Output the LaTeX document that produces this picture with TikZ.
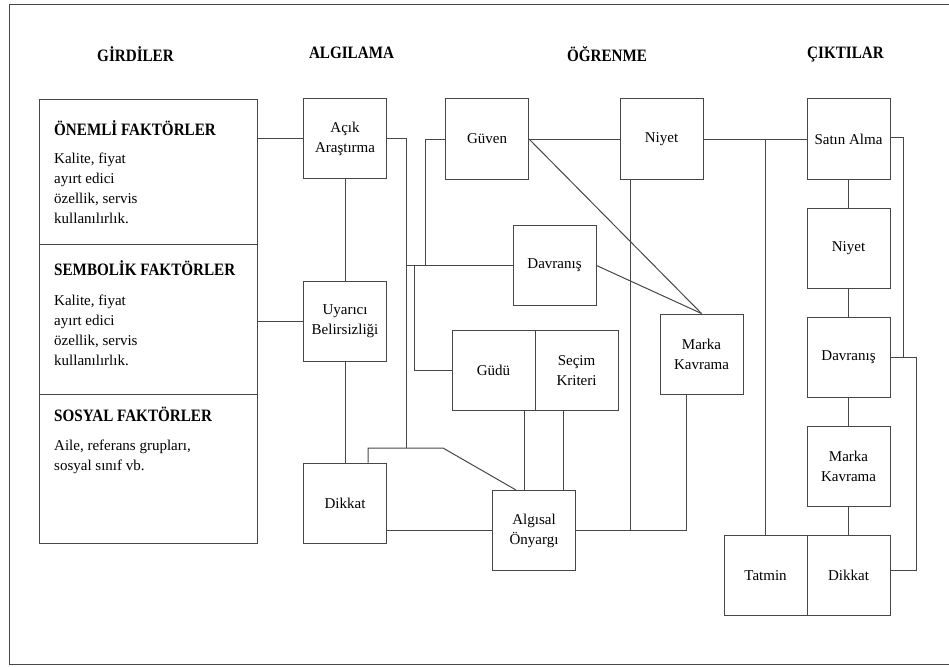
\documentclass[tikz,border=0pt]{standalone}
\usepackage{fontspec}
\setmainfont{Liberation Serif}[BoldFeatures={FakeStretch=0.87}]
\begin{document}
\begin{tikzpicture}[x=1pt, y=-1pt, font=\fontsize{15}{20}\selectfont,
    hat/.style={draw=black!72, line width=1pt},
    kutu/.style={hat, minimum width=83pt, minimum height=80pt, inner sep=0pt, align=center},
    bolum/.style={hat, minimum width=218pt, anchor=north west, inner sep=0pt},
    baslik/.style={font=\fontsize{17.4}{20}\selectfont\bfseries, anchor=base, inner sep=0pt},
    metin/.style={anchor=north west, align=left, inner sep=0pt}]
    \useasboundingbox (0,0) rectangle (949,666);
    % Frame
    \draw[hat] (949,5) -- (9,5) -- (9,664) -- (949,664);
    % Column headings
    \node[baslik] (girdiler) at (135.5,62) {GİRDİLER};
    \node[baslik] (algilama) at (351.5,59) {ALGILAMA};
    \node[baslik] (ogrenme) at (607,62) {ÖĞRENME};
    \node[baslik] (ciktilar) at (845.5,59) {ÇIKTILAR};
    % Inputs
    \node[bolum, minimum height=145pt] (onemli) at (39,99) {};
    \node[bolum, minimum height=150pt] (sembolik) at (39,244) {};
    \node[bolum, minimum height=149pt] (sosyal) at (39,394) {};
    \node[baslik, anchor=base west] (onemlib) at (54,135) {ÖNEMLİ FAKTÖRLER};
    \node[metin] (onemlim) at (54,153) {Kalite, fiyat\\ayırt edici\\özellik, servis\\kullanılırlık.};
    \node[baslik, anchor=base west] (sembolikb) at (54,275.5) {SEMBOLİK FAKTÖRLER};
    \node[metin] (sembolikm) at (54,295) {Kalite, fiyat\\ayırt edici\\özellik, servis\\kullanılırlık.};
    \node[baslik, anchor=base west] (sosyalb) at (54,421.5) {SOSYAL FAKTÖRLER};
    \node[metin] (sosyalm) at (54,440) {Aile, referans grupları,\\sosyal sınıf vb.};
    % Perception
    \node[kutu] (acik) at (345,138.5) {Açık\\Araştırma};
    \node[kutu] (uyarici) at (345,321) {Uyarıcı\\Belirsizliği};
    \node[kutu] (dikkat1) at (345,503) {Dikkat};
    % Learning
    \node[kutu] (guven) at (487,139) {Güven};
    \node[kutu] (niyet1) at (661.5,139) {Niyet};
    \node[kutu] (davranis1) at (554.5,265.5) {Davranış};
    \node[kutu] (gudu) at (493.5,370.5) {Güdü};
    \node[kutu] (secim) at (576.5,370.5) {Seçim\\Kriteri};
    \node[kutu] (marka1) at (701.5,354) {Marka\\Kavrama};
    \node[kutu] (algisal) at (534,530.5) {Algısal\\Önyargı};
    % Outputs
    \node[kutu] (satin) at (848.5,139) {Satın Alma};
    \node[kutu] (niyet2) at (848.5,248) {Niyet};
    \node[kutu] (davranis2) at (848.5,357.5) {Davranış};
    \node[kutu] (marka2) at (848.5,466.5) {Marka\\Kavrama};
    \node[kutu] (tatmin) at (765.5,575.5) {Tatmin};
    \node[kutu] (dikkat2) at (848.5,575.5) {Dikkat};
    % Junction points
    \coordinate (k1) at (406,448);
    \coordinate (k2) at (443,448);
    \coordinate (k3) at (368,448);
    \coordinate (k5) at (425,265.5);
    \coordinate (k6) at (414,0);
    \coordinate (k8) at (903,0);
    \coordinate (k9) at (916,0);
    % Inputs to perception
    \draw[hat] (onemli.east |- acik.west) -- (acik.west);
    \draw[hat] (sembolik.east |- uyarici.west) -- (uyarici.west);
    \draw[hat] (acik) -- (uyarici);
    \draw[hat] (uyarici) -- (dikkat1);
    \draw[hat] (dikkat1.east |- algisal.west) -- (algisal.west);
    % Perception to learning
    \draw[hat] (acik.east) -- (acik.east -| k1) -- (k1);
    \draw[hat] ([xshift=23pt]dikkat1.north) -- (k3) -- (k2) -- ([xshift=-18pt]algisal.north);
    \draw[hat] (guven.west) -- (guven.west -| k5) -- (k5);
    \draw[hat] (k1 |- davranis1.west) -- (davranis1.west);
    \draw[hat] (k6 |- davranis1.west) -- (k6 |- gudu.west) -- (gudu.west);
    % Learning links
    \draw[hat] (guven) -- (niyet1);
    \draw[hat] (niyet1) -- (satin);
    \draw[hat] (guven.east) -- (marka1.north);
    \draw[hat] (davranis1.east) -- (marka1.north);
    \draw[hat] ([xshift=30.5pt]gudu.south) -- ([xshift=30.5pt]gudu.south |- algisal.north);
    \draw[hat] ([xshift=-13.5pt]secim.south) -- ([xshift=-13.5pt]secim.south |- algisal.north);
    \draw[hat] ([xshift=-31.5pt]niyet1.south) -- ([xshift=-31.5pt]niyet1.south |- algisal.east);
    \draw[hat] (algisal.east) -- ([xshift=-15.5pt]marka1.south |- algisal.east) -- ([xshift=-15.5pt]marka1.south);
    % Outputs
    \draw[hat] (tatmin.north |- satin.west) -- (tatmin.north);
    \draw[hat] (satin) -- (niyet2);
    \draw[hat] (niyet2) -- (davranis2);
    \draw[hat] (davranis2) -- (marka2);
    \draw[hat] (marka2) -- (dikkat2);
    \draw[hat] ([yshift=2pt]satin.east) -- ([yshift=2pt]satin.east -| k8) -- (k8 |- davranis2.east);
    \draw[hat] (davranis2.east) -- (davranis2.east -| k9) -- ([yshift=5pt]k9 |- dikkat2.east) -- ([yshift=5pt]dikkat2.east);
\end{tikzpicture}
\end{document}
